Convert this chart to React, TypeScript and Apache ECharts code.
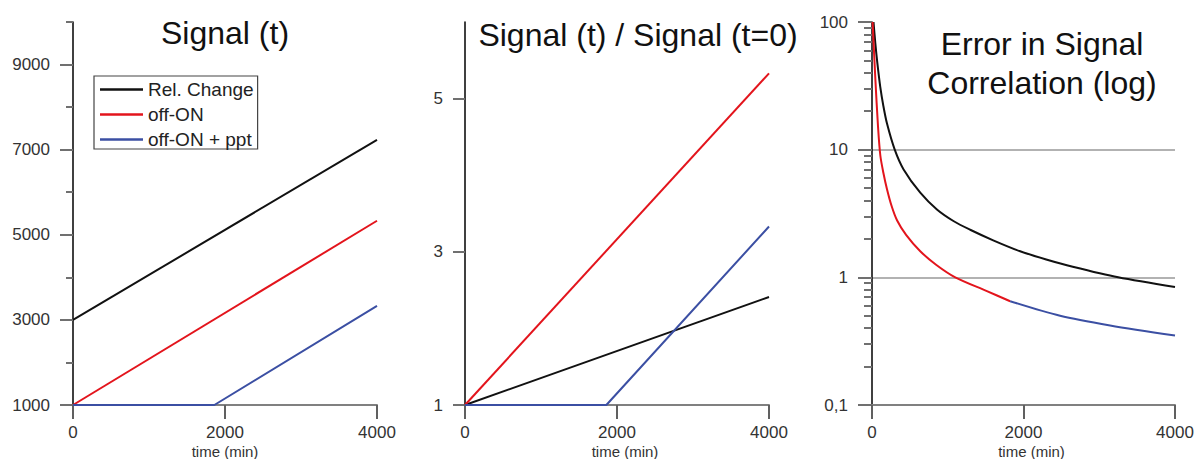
import React, { useEffect, useRef } from "react";
import * as echarts from "echarts";

// ---------- data ----------
const seriesNames = ["Rel. Change", "off-ON", "off-ON + ppt"];
const seriesColors = ["#111111", "#e3141c", "#3b4fa3"];

const xTickLabels = [0, 2000, 4000];

// Panel 1: Signal (t)
const signalRelChange = [[0, 3000], [4000, 7230]];
const signalOffOn = [[0, 1000], [4000, 5330]];
const signalOffOnPpt = [[0, 1000], [1860, 1000], [4000, 3330]];
const signalMajorTicks = [1000, 3000, 5000, 7000, 9000];
const signalMinorTicks = [2000, 4000, 6000, 8000, 10000];

// Panel 2: Signal (t) / Signal (t=0)
const ratioRelChange = [[0, 1], [4000, 2.41]];
const ratioOffOn = [[0, 1], [4000, 5.33]];
const ratioOffOnPpt = [[0, 1], [1860, 1], [4000, 3.33]];
const ratioTicks = [1, 3, 5];

// Panel 3: Error in Signal Correlation (log)
const errorRelChange = [
  [20, 100], [44, 68], [70, 48], [109, 31], [150, 22], [198, 16], [300, 10],
  [417, 7.0], [637, 4.6], [857, 3.4], [1080, 2.75], [1296, 2.36], [1600, 1.95],
  [1956, 1.6], [2300, 1.38], [2650, 1.21], [3250, 1.0], [4000, 0.84],
];
const errorOffOn = [
  [8, 100], [44, 36], [80, 15], [110, 9], [150, 6.6], [198, 4.9], [260, 3.6],
  [330, 2.8], [450, 2.15], [637, 1.6], [850, 1.25], [1099, 1.0], [1517, 0.78],
  [1824, 0.65],
];
const errorOffOnPpt = [[1824, 0.65], [2483, 0.5], [3143, 0.42], [4000, 0.35]];
const errorMinorTicks = [
  0.2, 0.3, 0.4, 0.5, 0.6, 0.7, 0.8, 0.9,
  2, 3, 4, 5, 6, 7, 8, 9,
  20, 30, 40, 50, 60, 70, 80, 90,
];

const FONT = "'Liberation Sans', Arial, sans-serif";

export default function App() {
  const ref = useRef<HTMLDivElement>(null);

  useEffect(() => {
    if (!ref.current) return;
    const chart = echarts.init(ref.current, undefined, { renderer: "svg" });

    const gridBase = { top: 22, height: 383, outerBoundsMode: "none", containLabel: false };
    const grids = [
      { ...gridBase, left: 73, width: 304 },
      { ...gridBase, left: 465, width: 304 },
      { ...gridBase, left: 872, width: 303 },
    ];

    const plain = (v: number) => String(v);

    const xAxisBase = (gridIndex: number, shift: number) => ({
      type: "value",
      gridIndex,
      min: xTickLabels[0],
      max: xTickLabels[xTickLabels.length - 1],
      interval: xTickLabels[1] - xTickLabels[0],
      name: "time (min)",
      nameLocation: "middle",
      nameGap: 39,
      nameMoveOverlap: false,
      nameTextStyle: {
        fontSize: 15,
        lineHeight: 15,
        color: "#333",
        fontFamily: FONT,
        padding: [0, 0, 0, shift * 2],
      },
      axisLine: { show: true, onZero: false, lineStyle: { color: "#808080", width: 2 } },
      axisTick: { show: true, inside: false, length: 14, lineStyle: { color: "#606060", width: 2 } },
      axisLabel: { fontSize: 17, lineHeight: 17, color: "#333", fontFamily: FONT, margin: 19, formatter: plain },
      splitLine: { show: false },
    });

    const yLabel = { fontSize: 17, color: "#333", fontFamily: FONT, margin: 23, formatter: plain };

    const yAxes: any[] = [
      // panel 1 major
      {
        type: "value",
        gridIndex: 0,
        position: "left",
        min: 1000,
        max: 10000,
        axisLine: { show: true, onZero: false, lineStyle: { color: "#000", width: 1.5 } },
        axisTick: { show: true, inside: false, length: 13, customValues: signalMajorTicks, lineStyle: { color: "#707070", width: 2 } },
        axisLabel: { ...yLabel, customValues: signalMajorTicks },
        splitLine: { show: false },
      },
      // panel 1 minor
      {
        type: "value",
        gridIndex: 0,
        position: "left",
        min: 1000,
        max: 10000,
        axisLine: { show: false },
        axisTick: { show: true, inside: false, length: 7, customValues: signalMinorTicks, lineStyle: { color: "#707070", width: 2 } },
        axisLabel: { show: false },
        splitLine: { show: false },
      },
      // panel 2
      {
        type: "value",
        gridIndex: 1,
        position: "left",
        min: 1,
        max: 6,
        axisLine: { show: true, onZero: false, lineStyle: { color: "#000", width: 1.5 } },
        axisTick: { show: true, inside: false, length: 12, customValues: ratioTicks, lineStyle: { color: "#707070", width: 2 } },
        axisLabel: { ...yLabel, margin: 22, customValues: ratioTicks },
        splitLine: { show: false },
      },
      // panel 3 major (log)
      {
        type: "log",
        logBase: 10,
        gridIndex: 2,
        position: "left",
        min: 0.1,
        max: 100,
        axisLine: { show: true, onZero: false, lineStyle: { color: "#000", width: 1.5 } },
        axisTick: { show: true, inside: false, length: 14, lineStyle: { color: "#707070", width: 2 } },
        axisLabel: {
          ...yLabel,
          margin: 24,
          formatter: (v: number) => String(v).replace(".", ","),
        },
        splitLine: {
          show: true,
          showMinLine: false,
          showMaxLine: false,
          lineStyle: { color: "#999", width: 1.5 },
        },
      },
      // panel 3 minor (log)
      {
        type: "log",
        logBase: 10,
        gridIndex: 2,
        position: "left",
        min: 0.1,
        max: 100,
        axisLine: { show: false },
        axisTick: { show: true, inside: false, length: 8, customValues: errorMinorTicks, lineStyle: { color: "#707070", width: 2 } },
        axisLabel: { show: false },
        splitLine: { show: false },
      },
    ];

    const line = (name: string, idx: number, data: number[][], xAxisIndex: number, yAxisIndex: number, smooth = false) => ({
      type: "line",
      name,
      data,
      xAxisIndex,
      yAxisIndex,
      symbol: "none",
      showSymbol: false,
      smooth: smooth ? 0.3 : false,
      lineStyle: { color: seriesColors[idx], width: 2 },
      itemStyle: { color: seriesColors[idx] },
      z: 3 + idx,
    });

    const option: any = {
      animation: false,
      backgroundColor: "#ffffff",
      textStyle: { fontFamily: FONT },
      grid: grids,
      xAxis: [xAxisBase(0, 0), xAxisBase(1, 8), xAxisBase(2, 8)],
      yAxis: yAxes,
      legend: {
        data: seriesNames,
        orient: "vertical",
        left: 94,
        top: 76,
        padding: [4, 4, 0, 6],
        itemGap: 6,
        itemWidth: 43,
        itemHeight: 2.5,
        icon: "rect",
        borderColor: "#444",
        borderWidth: 1.2,
        textStyle: { fontSize: 19, color: "#222", fontFamily: FONT, lineHeight: 18 },
        selectedMode: false,
      },
      graphic: [
        {
          type: "text",
          x: 225,
          y: 33,
          style: { text: "Signal (t)", font: `32px ${FONT}`, fill: "#111", textAlign: "center", textVerticalAlign: "middle" },
        },
        {
          type: "text",
          x: 638,
          y: 35,
          style: { text: "Signal (t) / Signal (t=0)", font: `32px ${FONT}`, fill: "#111", textAlign: "center", textVerticalAlign: "middle" },
        },
        {
          type: "text",
          x: 1042,
          y: 44,
          style: { text: "Error in Signal", font: `32px ${FONT}`, fill: "#111", textAlign: "center", textVerticalAlign: "middle" },
        },
        {
          type: "text",
          x: 1042,
          y: 83,
          style: { text: "Correlation (log)", font: `32px ${FONT}`, fill: "#111", textAlign: "center", textVerticalAlign: "middle" },
        },
      ],
      series: [
        line(seriesNames[0], 0, signalRelChange, 0, 0),
        line(seriesNames[1], 1, signalOffOn, 0, 0),
        line(seriesNames[2], 2, signalOffOnPpt, 0, 0),
        line(seriesNames[0], 0, ratioRelChange, 1, 2),
        line(seriesNames[1], 1, ratioOffOn, 1, 2),
        line(seriesNames[2], 2, ratioOffOnPpt, 1, 2),
        line(seriesNames[0], 0, errorRelChange, 2, 3, true),
        line(seriesNames[1], 1, errorOffOn, 2, 3, true),
        line(seriesNames[2], 2, errorOffOnPpt, 2, 3, true),
      ],
    };

    chart.setOption(option);
    return () => chart.dispose();
  }, []);

  return (
    <div
      ref={ref}
      style={{ position: "absolute", left: 0, top: 0, width: 1197, height: 459, background: "#fff" }}
    />
  );
}
